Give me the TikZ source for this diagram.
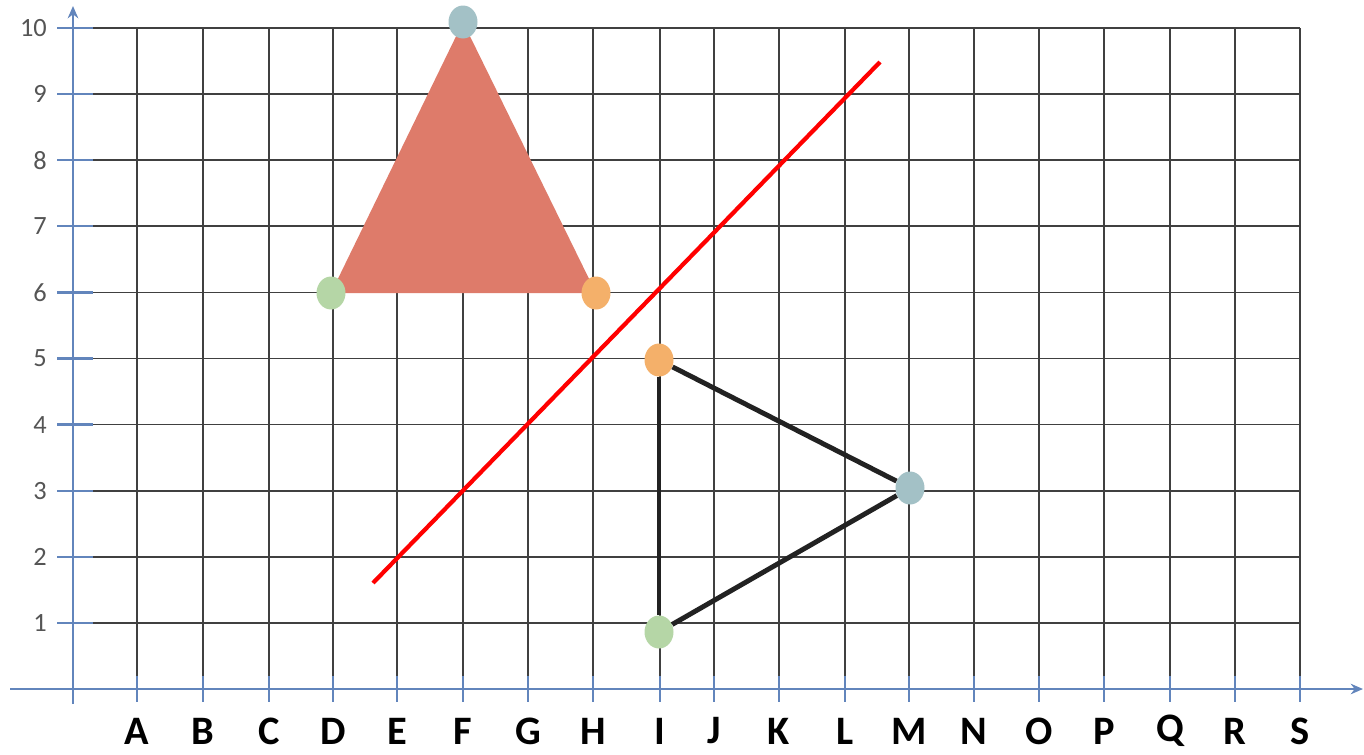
\documentclass[tikz,border=0pt]{standalone}
\usepackage{fontspec}
\setmainfont{Carlito}
\usetikzlibrary{shapes.geometric,arrows.meta}
\definecolor{axisblue}{HTML}{6285BC}
\definecolor{salmon}{HTML}{DE7B6A}
\definecolor{dotblue}{HTML}{A3C1C6}
\definecolor{dotgreen}{HTML}{B5D6A6}
\definecolor{dotorange}{HTML}{F4B06A}
\definecolor{edgeblack}{HTML}{222222}
\definecolor{numgray}{HTML}{555555}

\begin{document}
\begin{tikzpicture}[
    x=0.2mm, y=-0.2mm,
    gridline/.style={draw=black!75, line width=1pt},
    axis/.style={draw=axisblue, line width=1.6pt, -{Stealth[length=7pt,width=6pt]}},
    tick/.style={draw=axisblue, line width=1.3pt},
    dot/.style={ellipse, minimum width=0.58cm, minimum height=0.66cm,
                inner sep=0pt},
    edge/.style={draw=edgeblack, line width=2.8pt},
    letter/.style={font=\fontsize{23}{23}\selectfont\bfseries},
    number/.style={font=\fontsize{15}{15}\selectfont, text=numgray, anchor=east},
  ]
  \useasboundingbox (0,0) rectangle (1364,754);

  % grid
  \foreach \n in {1,...,10}
    \draw[gridline] (93,{689-66.1*\n}) -- (1300,{689-66.1*\n});
  \foreach \xx/\lab in {137/A,203/B,269/C,333/D,397/E,463/F,528/G,593/H,660/I,
                        714/J,779/K,845/L,909/M,974/N,1039/O,1104/P,1170/Q,1235/R,1300/S} {
    \draw[gridline] (\xx,28) -- (\xx,689);
    \draw[tick] (\xx,676) -- (\xx,702);
    \node[letter] (lab\lab) at (\xx,731) {\lab};
  }

  % axes
  \foreach \n in {0,...,10}
    \draw[tick] (57,{689-66.1*\n}) -- (93,{689-66.1*\n});
  \foreach \n in {1,...,10}
    \node[number] (num\n) at (53,{689-66.1*\n}) {\n};
  \draw[axis] (73,704) -- (73,6);
  \draw[axis] (10,689) -- (1363,689);

  % object triangle
  \coordinate (vF) at (463,22);
  \coordinate (vD) at (331,293);
  \coordinate (vH) at (596,293);
  \fill[salmon] (vF) -- (vD) -- (vH) -- cycle;
  \node[dot, fill=dotblue]   (topF)   at (vF) {};
  \node[dot, fill=dotgreen]  (leftD)  at (vD) {};
  \node[dot, fill=dotorange] (rightH) at (vH) {};

  % mirror line
  \coordinate (mirA) at (373,583);
  \coordinate (mirB) at (880,62);
  \draw[red, line width=2.4pt] (mirA) -- (mirB);

  % image triangle
  \node[dot, fill=dotorange] (imgI5) at (659,360) {};
  \node[dot, fill=dotgreen]  (imgI1) at (659,632) {};
  \node[dot, fill=dotblue]   (imgM3) at (910,488) {};
  \draw[edge] (imgI5) -- (imgI1);
  \draw[edge] (imgI1) -- (imgM3);
  \draw[edge] (imgM3) -- (imgI5);
\end{tikzpicture}
\end{document}
